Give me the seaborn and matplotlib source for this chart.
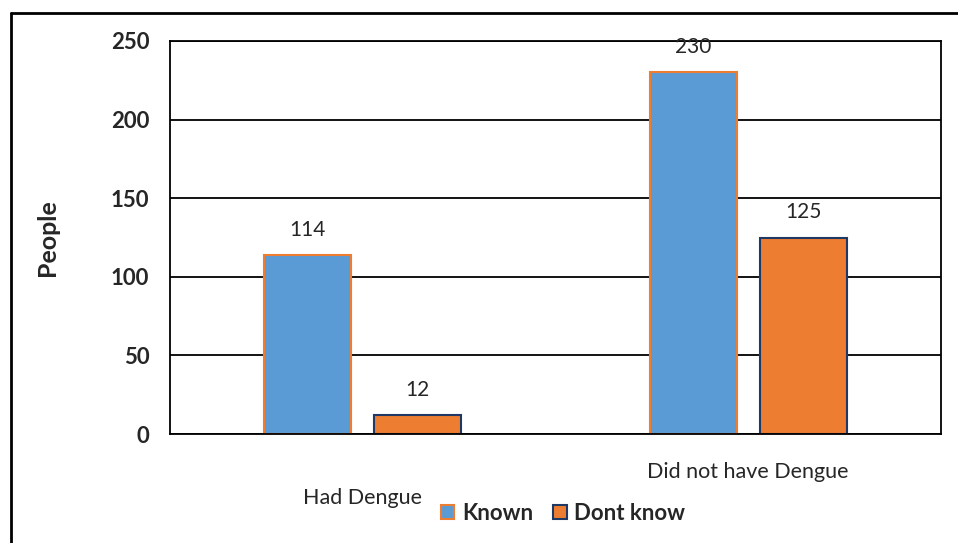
import pandas as pd
import matplotlib.pyplot as plt
import seaborn as sns
from matplotlib.patches import Patch
from matplotlib.lines import Line2D

# data
groups = ["Had Dengue", "Did not have Dengue"]
statuses = ["Known", "Dont know"]
known = [114, 230]
dont_know = [12, 125]

blue = "#5B9BD5"
orange = "#ED7D31"
navy = "#203864"

df = pd.DataFrame({
    "Group": groups * 2,
    "Status": [statuses[0]] * 2 + [statuses[1]] * 2,
    "People": known + dont_know,
})

sns.set_style("white")
plt.rcParams["font.family"] = ["Lato", "DejaVu Sans"]

fig = plt.figure(figsize=(9.58, 5.43), dpi=100)
ax = fig.add_axes([0.1775, 0.2007, 0.8045, 0.7238])

sns.barplot(data=df, x="Group", y="People", hue="Status", order=groups,
            hue_order=statuses, palette=[blue, orange], width=0.571, gap=0.21,
            saturation=1, legend=False, ax=ax)

# edge colours per series
for cont, ec in zip(ax.containers, [orange, navy]):
    for bar in cont:
        bar.set_edgecolor(ec)
        bar.set_linewidth(1.5)
    ax.bar_label(cont, padding=11, fontsize=15)

ax.set_ylim(0, 250)
ax.set_yticks([0, 50, 100, 150, 200, 250])
ax.yaxis.grid(True, color="black", linewidth=1.3)
ax.set_axisbelow(True)
for s in ax.spines.values():
    s.set_visible(True)
    s.set_color("black")
    s.set_linewidth(1.3)

ax.tick_params(axis="y", length=0, pad=15, labelsize=16)
for lab in ax.get_yticklabels():
    lab.set_fontweight("bold")
ax.tick_params(axis="x", length=0, labelsize=15.5)
ax.set_xlabel("")
ax.set_ylabel("People", fontsize=18, fontweight="bold", labelpad=37)

# staggered category labels
ticks = ax.xaxis.get_major_ticks()
ticks[0].set_pad(39)
ticks[1].set_pad(20)

handles = [Patch(facecolor=blue, edgecolor=orange, linewidth=1.5),
           Patch(facecolor=orange, edgecolor=navy, linewidth=1.5)]
fig.legend(handles, statuses, loc="center", bbox_to_anchor=(0.588, 0.055),
           ncol=2, frameon=False, handlelength=0.6, handleheight=0.6,
           handletextpad=0.35, columnspacing=0.9,
           prop={"weight": "bold", "size": 16})

# outer chart border (top and left visible)
fig.add_artist(Line2D([0.0115, 1.0], [0.976, 0.976], color="black", linewidth=2))
fig.add_artist(Line2D([0.0115, 0.0115], [0.0, 0.976], color="black", linewidth=2))

plt.savefig("out.png", dpi=100)
